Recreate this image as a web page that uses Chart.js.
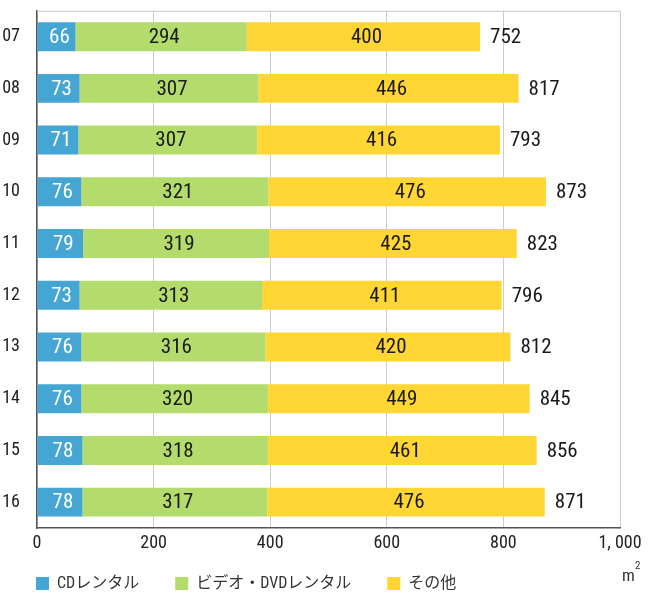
<!DOCTYPE html>
<html><head><meta charset="utf-8">
<script src="https://cdn.jsdelivr.net/npm/chart.js@4/dist/chart.umd.min.js"></script>
<style>html,body{margin:0;padding:0;background:#fff}#wrap{width:650px;height:595px;position:relative}</style>
</head><body><div id="wrap"><canvas id="c"></canvas></div>
<script>
const categories = ["07","08","09","10","11","12","13","14","15","16"];
const cdRental = [66,73,71,76,79,73,76,76,78,78];
const videoDvdRental = [294,307,307,321,319,313,316,320,318,317];
const others = [400,446,416,476,425,411,420,449,461,476];
const totals = [752,817,793,873,823,796,812,845,856,871];
const seriesNames = ["CDレンタル","ビデオ・DVDレンタル","その他"];
const xTicks = [0,200,400,600,800,1000];

const FONT = "'Roboto Condensed','Noto Sans CJK JP',sans-serif";

const labelPlugin = {
  id:'labels',
  afterDatasetsDraw(chart){
    const ctx = chart.ctx;
    ctx.save();
    ctx.font = "21px " + FONT;
    ctx.textBaseline = 'middle';
    chart.data.datasets.forEach((ds,di)=>{
      const meta = chart.getDatasetMeta(di);
      meta.data.forEach((el,i)=>{
        ctx.fillStyle = di===0 ? '#ffffff' : '#1a1a1a';
        ctx.textAlign = 'center';
        ctx.fillText(String(ds.data[i]), (el.x+el.base)/2 + 3, el.y+1);
      });
    });
    const last = chart.getDatasetMeta(chart.data.datasets.length-1);
    last.data.forEach((el,i)=>{
      ctx.fillStyle = '#1a1a1a';
      ctx.textAlign = 'left';
      ctx.fillText(totals[i].toLocaleString('en-US'), el.x+10, el.y+1);
    });
    ctx.restore();
  }
};
const framePlugin = {
  id:'frame',
  afterLayout(chart){
    if (chart.legend) chart.legend.top = 539.5;
  },
  beforeDatasetsDraw(chart){
    const {ctx, chartArea:a} = chart;
    ctx.save();
    ctx.strokeStyle = '#c8c8c8';
    ctx.lineWidth = 1;
    ctx.beginPath();
    ctx.moveTo(a.left, a.top+0.5); ctx.lineTo(a.right, a.top+0.5);
    ctx.stroke();
    ctx.restore();
  },
  afterDraw(chart){
    const {ctx, chartArea:a} = chart;
    ctx.save();
    ctx.fillStyle = '#333';
    ctx.textAlign = 'left';
    ctx.textBaseline = 'alphabetic';
    ctx.font = "17px " + FONT;
    ctx.fillText('m', a.right + 2, a.bottom + 53);
    ctx.font = "11px " + FONT;
    ctx.fillText('2', a.right + 15, a.bottom + 41);
    ctx.restore();
  }
};

new Chart(document.getElementById('c'), {
  type:'bar',
  data:{
    labels:categories,
    datasets:[
      {label:seriesNames[0], data:cdRental, backgroundColor:'#45a6d3'},
      {label:seriesNames[1], data:videoDvdRental, backgroundColor:'#b3dc6c'},
      {label:seriesNames[2], data:others, backgroundColor:'#ffd633'}
    ]
  },
  options:{
    indexAxis:'y',
    responsive:true,
    maintainAspectRatio:false,
    animation:false,
    layout:{padding:{top:7,right:30,left:0,bottom:0}},
    datasets:{bar:{categoryPercentage:1, barPercentage:0.56}},
    plugins:{
      legend:{
        position:'bottom', align:'start', maxHeight:27,
        labels:{font:{family:FONT,size:16}, color:'#333', boxWidth:13, boxHeight:13, padding:36},
      },
      tooltip:{enabled:false}
    },
    scales:{
      x:{
        stacked:true, min:0, max:1000,
        afterBuildTicks(s){ s.ticks = xTicks.map(v=>({value:v})); },
        afterFit(s){ s.height = 40; },
        ticks:{font:{family:FONT,size:18}, color:'#222', padding:0,
          callback:(v)=>Number(v).toLocaleString('en-US').replace(',', ', ')},
        grid:{color:'#cccccc', drawTicks:true, tickLength:5, tickColor:'rgba(0,0,0,0)'},
        border:{color:'#555', width:1.5}
      },
      y:{
        stacked:true,
        afterFit(s){ s.width = 37; },
        ticks:{font:{family:FONT,size:18}, color:'#222', padding:0},
        grid:{display:false, drawTicks:true, tickLength:17},
        border:{color:'#555', width:1.5}
      }
    }
  },
  plugins:[labelPlugin, framePlugin]
});
</script></body></html>
